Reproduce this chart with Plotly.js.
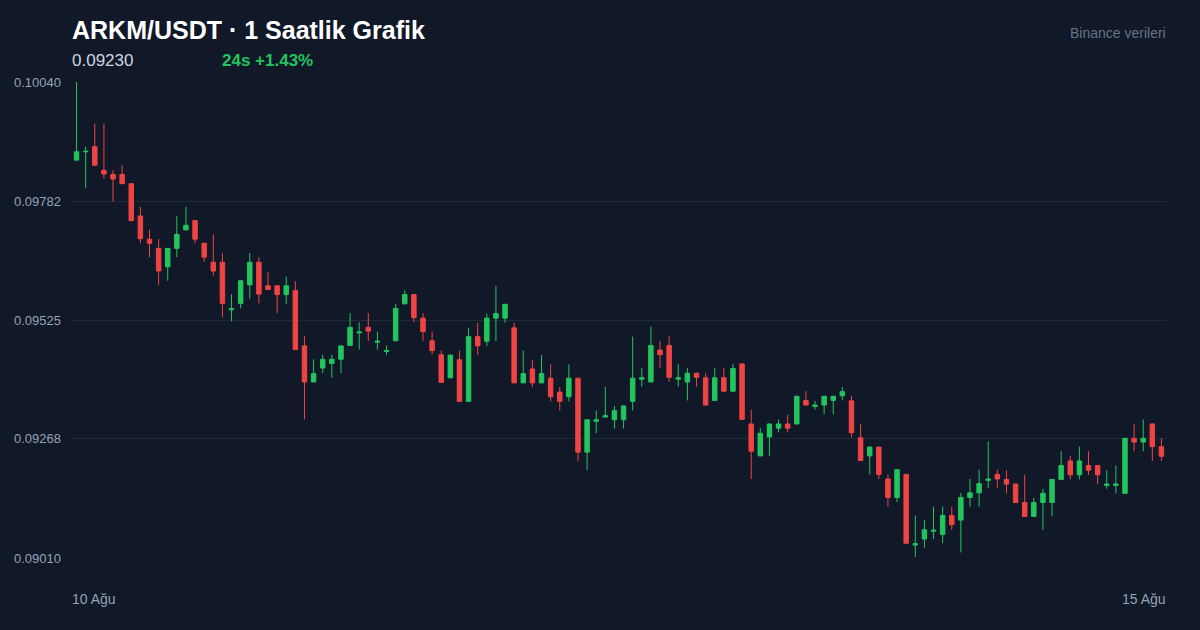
<!DOCTYPE html>
<html>
<head>
<meta charset="utf-8">
<script src="https://cdn.plot.ly/plotly-3.0.1.min.js"></script>
<style>
html,body{margin:0;padding:0;background:#111827;}
#chart{width:1200px;height:630px;}
</style>
</head>
<body>
<div id="chart"></div>
<script>
const titleText = "ARKM/USDT · 1 Saatlik Grafik";
const lastPriceText = "0.09230";
const changeText = "24s +1.43%";
const sourceText = "Binance verileri";
const xLabels = ["10 Ağu", "15 Ağu"];
const yTickVals = [0.09010, 0.09268, 0.09525, 0.09782, 0.10040];
const yTickText = ["0.09010", "0.09268", "0.09525", "0.09782", "0.10040"];

const openP = [
0.09871,0.09889,0.09900,0.09849,0.09840,0.09840,0.09820,0.09750,0.09700,0.09680,
0.09640,0.09680,0.09720,0.09740,0.09691,0.09650,0.09650,0.09547,0.09561,0.09601,
0.09650,0.09599,0.09599,0.09580,0.09589,0.09469,0.09391,0.09421,0.09431,0.09440,
0.09470,0.09497,0.09509,0.09477,0.09457,0.09480,0.09560,0.09580,0.09529,0.09480,
0.09450,0.09400,0.09439,0.09349,0.09489,0.09479,0.09529,0.09529,0.09508,0.09389,
0.09419,0.09389,0.09399,0.09369,0.09359,0.09399,0.09239,0.09306,0.09315,0.09309,
0.09309,0.09349,0.09397,0.09391,0.09460,0.09470,0.09397,0.09391,0.09410,0.09400,
0.09351,0.09400,0.09371,0.09430,0.09300,0.09231,0.09272,0.09291,0.09300,0.09300,
0.09351,0.09338,0.09341,0.09351,0.09361,0.09350,0.09270,0.09231,0.09250,0.09181,
0.09141,0.09191,0.09038,0.09051,0.09068,0.09061,0.09102,0.09092,0.09141,0.09151,
0.09178,0.09191,0.09180,0.09170,0.09130,0.09100,0.09130,0.09130,0.09180,0.09220,
0.09190,0.09210,0.09210,0.09167,0.09167,0.09150,0.09269,0.09261,0.09300,0.09251];

const highP = [
0.10040,0.09900,0.09950,0.09950,0.09849,0.09860,0.09821,0.09770,0.09720,0.09700,
0.09681,0.09750,0.09770,0.09741,0.09692,0.09710,0.09670,0.09581,0.09611,0.09670,
0.09661,0.09629,0.09600,0.09619,0.09609,0.09490,0.09440,0.09450,0.09450,0.09470,
0.09540,0.09520,0.09540,0.09500,0.09470,0.09559,0.09589,0.09581,0.09540,0.09500,
0.09459,0.09450,0.09459,0.09508,0.09519,0.09539,0.09599,0.09560,0.09519,0.09459,
0.09439,0.09449,0.09429,0.09380,0.09429,0.09400,0.09310,0.09329,0.09380,0.09339,
0.09340,0.09489,0.09421,0.09511,0.09480,0.09490,0.09430,0.09421,0.09411,0.09410,
0.09421,0.09421,0.09430,0.09431,0.09331,0.09291,0.09301,0.09310,0.09320,0.09361,
0.09371,0.09350,0.09361,0.09361,0.09380,0.09361,0.09300,0.09251,0.09251,0.09191,
0.09202,0.09192,0.09102,0.09092,0.09121,0.09121,0.09121,0.09151,0.09181,0.09201,
0.09262,0.09201,0.09200,0.09171,0.09190,0.09140,0.09160,0.09181,0.09241,0.09231,
0.09251,0.09241,0.09211,0.09200,0.09210,0.09270,0.09300,0.09310,0.09301,0.09269];

const lowP = [
0.09869,0.09810,0.09858,0.09831,0.09781,0.09819,0.09739,0.09691,0.09661,0.09601,
0.09610,0.09661,0.09719,0.09691,0.09651,0.09621,0.09531,0.09522,0.09550,0.09571,
0.09561,0.09590,0.09540,0.09560,0.09460,0.09310,0.09390,0.09410,0.09400,0.09410,
0.09469,0.09461,0.09480,0.09461,0.09450,0.09479,0.09559,0.09520,0.09480,0.09450,
0.09390,0.09399,0.09348,0.09348,0.09449,0.09469,0.09479,0.09519,0.09388,0.09388,
0.09380,0.09388,0.09349,0.09329,0.09349,0.09219,0.09200,0.09280,0.09314,0.09290,
0.09290,0.09329,0.09381,0.09390,0.09421,0.09391,0.09381,0.09351,0.09381,0.09340,
0.09350,0.09370,0.09370,0.09309,0.09181,0.09230,0.09231,0.09282,0.09282,0.09299,
0.09340,0.09331,0.09321,0.09321,0.09351,0.09271,0.09220,0.09191,0.09181,0.09121,
0.09131,0.09041,0.09012,0.09032,0.09051,0.09042,0.09071,0.09022,0.09121,0.09121,
0.09161,0.09161,0.09150,0.09129,0.09099,0.09099,0.09071,0.09100,0.09179,0.09180,
0.09180,0.09190,0.09170,0.09160,0.09150,0.09149,0.09241,0.09241,0.09220,0.09220];

const closeP = [
0.09889,0.09890,0.09860,0.09841,0.09830,0.09820,0.09740,0.09701,0.09691,0.09631,
0.09680,0.09710,0.09730,0.09700,0.09661,0.09631,0.09561,0.09550,0.09610,0.09650,
0.09581,0.09591,0.09580,0.09599,0.09461,0.09391,0.09409,0.09440,0.09440,0.09469,
0.09509,0.09499,0.09501,0.09479,0.09459,0.09550,0.09580,0.09530,0.09500,0.09459,
0.09390,0.09449,0.09349,0.09489,0.09469,0.09529,0.09539,0.09559,0.09389,0.09409,
0.09389,0.09409,0.09359,0.09349,0.09399,0.09239,0.09309,0.09309,0.09318,0.09329,
0.09339,0.09399,0.09400,0.09470,0.09450,0.09401,0.09400,0.09410,0.09401,0.09341,
0.09400,0.09371,0.09420,0.09310,0.09241,0.09280,0.09300,0.09300,0.09291,0.09360,
0.09341,0.09341,0.09360,0.09360,0.09370,0.09281,0.09221,0.09250,0.09191,0.09141,
0.09201,0.09042,0.09041,0.09071,0.09070,0.09102,0.09082,0.09141,0.09151,0.09171,
0.09181,0.09181,0.09170,0.09130,0.09100,0.09130,0.09150,0.09180,0.09210,0.09190,
0.09220,0.09200,0.09190,0.09170,0.09170,0.09269,0.09261,0.09269,0.09251,0.09230];

const hourIndex = openP.map((_, i) => i);

const UP = "#22c55e", DOWN = "#ef4444";
const FONT = "'Liberation Sans', Arial, Helvetica, sans-serif";

const trace = {
  type: "candlestick",
  x: hourIndex,
  open: openP, high: highP, low: lowP, close: closeP,
  increasing: {line: {color: UP, width: 1}, fillcolor: UP},
  decreasing: {line: {color: DOWN, width: 1}, fillcolor: DOWN},
  whiskerwidth: 0,
  hoverinfo: "skip"
};

const layout = {
  width: 1200, height: 630,
  paper_bgcolor: "#111827", plot_bgcolor: "#111827",
  margin: {l: 72, r: 34, t: 82, b: 72},
  showlegend: false,
  font: {family: FONT, color: "#94a3b8"},
  title: {
    text: "<b>" + titleText + "</b>",
    font: {family: FONT, size: 25, color: "#ffffff"},
    xref: "container", yref: "container",
    x: 72/1200, xanchor: "left",
    y: 1 - 30/630, yanchor: "middle"
  },
  xaxis: {
    range: [-0.5, hourIndex.length - 0.5],
    showgrid: false, zeroline: false, showticklabels: false,
    showline: false, ticks: "",
    rangeslider: {visible: false},
    fixedrange: true
  },
  yaxis: {
    range: [0.09010, 0.10040],
    tickvals: yTickVals, ticktext: yTickText,
    showgrid: true, gridcolor: "#1f2937", gridwidth: 1,
    zeroline: false, showline: false, ticks: "",
    ticklabelstandoff: 10,
    tickfont: {family: FONT, size: 13, color: "#94a3b8"},
    fixedrange: true
  },
  annotations: [
    {text: lastPriceText, xref: "paper", yref: "paper", x: 0, xanchor: "left", xshift: -2,
     y: (630-61-72)/476, yanchor: "middle", showarrow: false,
     font: {family: FONT, size: 17, color: "#cbd5e1"}},
    {text: "<b>" + changeText + "</b>", xref: "paper", yref: "paper", x: (222-72)/1094, xanchor: "left", xshift: -2,
     y: (630-61-72)/476, yanchor: "middle", showarrow: false,
     font: {family: FONT, size: 17, color: UP}},
    {text: sourceText, xref: "paper", yref: "paper", x: 1, xanchor: "right", xshift: 2,
     y: (630-33-72)/476, yanchor: "middle", showarrow: false,
     font: {family: FONT, size: 14, color: "#64748b"}},
    {text: xLabels[0], xref: "paper", yref: "paper", x: 0, xanchor: "left", xshift: -2,
     y: (630-599-72)/476, yanchor: "middle", showarrow: false,
     font: {family: FONT, size: 14, color: "#94a3b8"}},
    {text: xLabels[1], xref: "paper", yref: "paper", x: 1, xanchor: "right", xshift: 2,
     y: (630-599-72)/476, yanchor: "middle", showarrow: false,
     font: {family: FONT, size: 14, color: "#94a3b8"}}
  ]
};

Plotly.newPlot("chart", [trace], layout, {displayModeBar: false, staticPlot: true});
</script>
</body>
</html>
